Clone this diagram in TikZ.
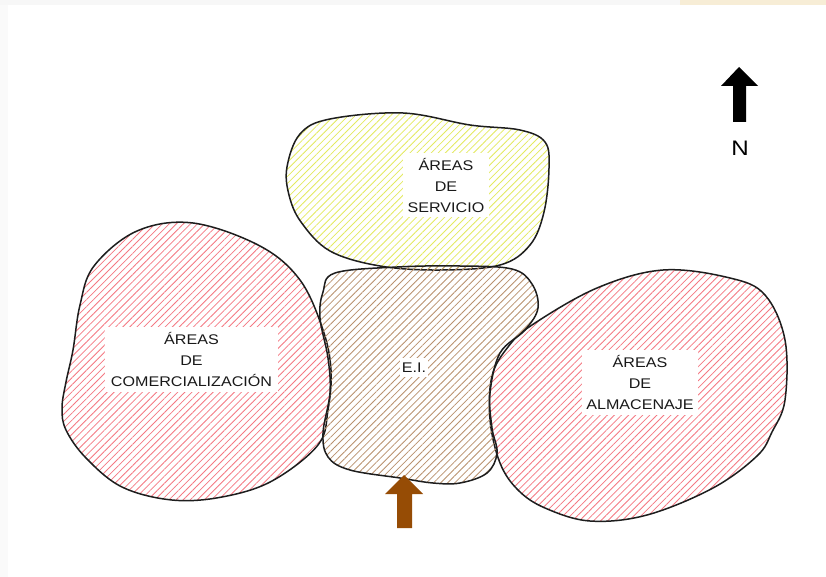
\documentclass[tikz,border=0pt]{standalone}
\usepackage{fontspec}
\setmainfont{Liberation Sans}[FakeStretch=1.15]
\usetikzlibrary{patterns.meta}
\definecolor{outl}{RGB}{30,30,30}
\definecolor{pinkh}{RGB}{245,120,130}
\definecolor{yellowh}{RGB}{228,234,95}
\definecolor{brownh}{RGB}{185,145,110}
\definecolor{arrowbrown}{RGB}{150,76,5}
\definecolor{txt}{RGB}{25,25,25}
\definecolor{beigeband}{RGB}{247,237,214}
\tikzset{
  blob/.style={draw=outl, line width=1.5pt, line join=round},
  hatchpink/.style={pattern={Lines[angle=45,distance=5pt,line width=0.8pt]}, pattern color=pinkh},
  hatchyellow/.style={pattern={Lines[angle=45,distance=5pt,line width=0.8pt]}, pattern color=yellowh},
  hatchbrown/.style={pattern={Lines[angle=45,distance=5pt,line width=0.8pt]}, pattern color=brownh},
  label/.style={fill=white, inner sep=0pt, align=center, text=txt,
    font=\fontsize{14}{21}\selectfont},
}
\begin{document}
\begin{tikzpicture}[x=1pt,y=-1pt]
\useasboundingbox (0,0) rectangle (826,577);
\fill[white] (0,0) rectangle (826,577);
% faint screenshot edges
\fill[black!3] (0,0) rectangle (826,5);
\fill[black!2] (0,5) rectangle (8,577);
\fill[beigeband] (680,0) rectangle (826,5);

% left pink: comercializacion
\path[blob, hatchpink] plot[smooth cycle, tension=0.6] coordinates {
 (193,223) (260,246) (300,280) (323,330) (331,370) (328,410) (318,445)
 (272,481) (222,497) (172,500) (122,487) (86,458) (66,430) (62,408)
 (66,382) (73,350) (80,305) (94,266) (137,231)};

% right pink: almacenaje
\path[blob, hatchpink] plot[smooth cycle, tension=0.6] coordinates {
 (663,270) (730,278) (765,295) (785,340) (785,400) (772,432) (757,456)
 (713,488) (647,515) (590,521) (545,508) (518,490) (500,463) (490,420)
 (492,376) (508,347) (532,325) (597,288)};

% yellow: servicio
\path[blob, hatchyellow] plot[smooth cycle, tension=0.6] coordinates {
 (287,167) (300,134) (330,119) (403,113) (470,125) (520,130) (545,142)
 (549,168) (544,212) (530,245) (500,265) (440,270) (380,266) (330,251)
 (301,222) (289,195)};

% brown: E.I.
\path[blob, hatchbrown] plot[smooth cycle, tension=0.6] coordinates {
 (335,273) (397,267) (460,266) (512,269) (532,284) (538,308) (525,330)
 (500,353) (490,393) (492,428) (497,453) (487,473) (460,483) (433,483)
 (400,478) (350,470) (328,457) (323,433) (330,393) (328,358) (320,318)
 (323,292)};

% labels
\node[label, minimum width=86pt, minimum height=64pt] (serv) at (446,185)
  {ÁREAS\\DE\\SERVICIO};
\node[label, minimum width=173pt, minimum height=65pt] (comer) at (191.5,359.5)
  {ÁREAS\\DE\\COMERCIALIZACIÓN};
\node[label, minimum width=28pt, minimum height=19pt] (ei) at (414,367.5) {E.I.};
\node[label, minimum width=116pt, minimum height=65pt] (alm) at (640,382.5)
  {ÁREAS\\DE\\ALMACENAJE};

% entrance arrow
\fill[arrowbrown] (404,475) -- (423,494) -- (412,494) -- (412,528)
  -- (397,528) -- (397,494) -- (385,494) -- cycle;

% north arrow
\fill[black] (739,67) -- (758,86) -- (746,86) -- (746,122)
  -- (733,122) -- (733,86) -- (721,86) -- cycle;
\node[text=black, font=\fontsize{21}{24}\selectfont, inner sep=0pt] (north) at (740,148) {N};
\end{tikzpicture}
\end{document}
